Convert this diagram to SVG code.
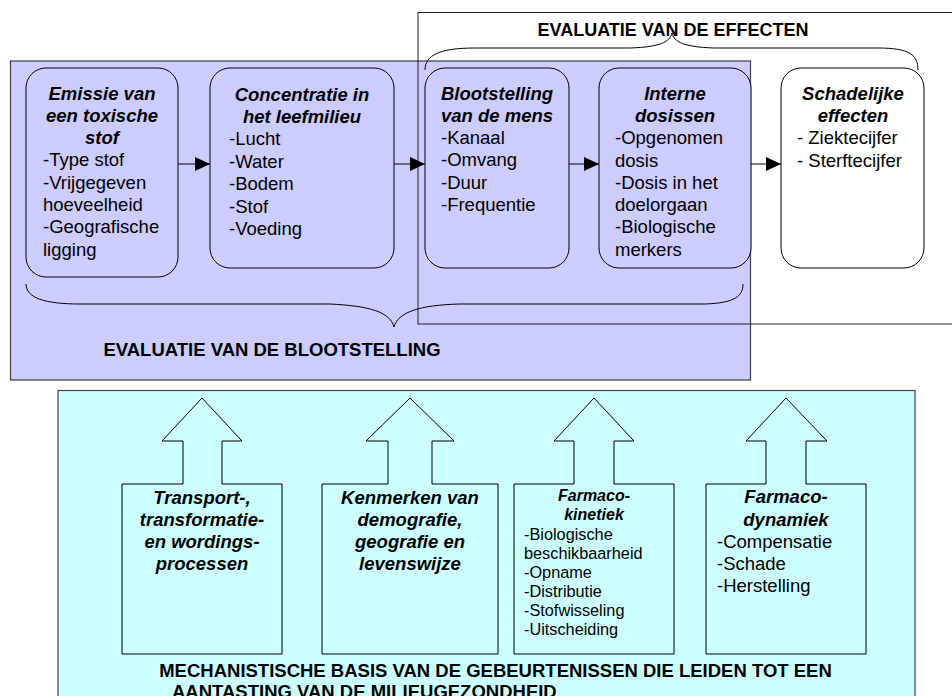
<svg xmlns="http://www.w3.org/2000/svg" width="952" height="696" viewBox="0 0 952 696">
<style>
text{font-family:"Liberation Sans",Arial,sans-serif;fill:#000}
.t{font-size:18.5px;font-weight:bold;font-style:italic;text-anchor:middle}
.b{font-size:18.5px}
.h{font-size:18.5px;font-weight:bold}
.ts{font-size:16px;font-weight:bold;font-style:italic;text-anchor:middle}
.bs{font-size:16.3px}
.rb{fill:#CCCCFF;stroke:#000;stroke-width:1}
.blk{fill:#CCFFFF;stroke:#000;stroke-width:1}
.line{stroke:#000;stroke-width:1;fill:none}
</style>
<defs>
<marker id="ah" markerUnits="userSpaceOnUse" markerWidth="15" markerHeight="14" refX="15" refY="7" orient="auto">
<path d="M0,0 L15,7 L0,14 z" fill="#000"/>
</marker>
</defs>
<g id="bg-exposure">
<rect x="10.5" y="61" width="740" height="319" fill="#CCCCFF" stroke="#404040" stroke-width="1.2"/>
<text class="h" x="272" y="356" text-anchor="middle">EVALUATIE VAN DE BLOOTSTELLING</text>
</g>
<g id="bg-effects">
<rect x="418" y="12.5" width="600" height="311.5" fill="none" stroke="#202020" stroke-width="1"/>
<text class="h" x="673" y="36" text-anchor="middle" style="font-size:18px">EVALUATIE VAN DE EFFECTEN</text>
</g>
<g id="braces" class="line">
<path d="M425,70 C425,55 440,48 475,48 L630,48 C660,47 670,42 672,33 C674,42 684,47 714,48 L878,48 C910,48 918,55 918,70"/>
<path d="M26,284 C26,298 45,304 80,304 L330,304 C370,306 390,312 394,327 C398,312 420,305 460,304 L705,304 C735,303 743,296 743,284"/>
</g>
<g id="emissie">
<rect class="rb" x="26" y="68" width="152" height="209" rx="20"/>
<text class="t" x="102" y="100">Emissie van</text>
<text class="t" x="102" y="122">een toxische</text>
<text class="t" x="102" y="144">stof</text>
<text class="b" x="43" y="166">-Type stof</text>
<text class="b" x="43" y="189">-Vrijgegeven</text>
<text class="b" x="43" y="211">hoeveelheid</text>
<text class="b" x="43" y="233">-Geografische</text>
<text class="b" x="43" y="256">ligging</text>
</g>
<g id="concentratie">
<rect class="rb" x="210" y="68" width="184" height="200" rx="20"/>
<text class="t" x="302" y="101">Concentratie in</text>
<text class="t" x="302" y="123">het leefmilieu</text>
<text class="b" x="229" y="145">-Lucht</text>
<text class="b" x="229" y="168">-Water</text>
<text class="b" x="229" y="190">-Bodem</text>
<text class="b" x="229" y="213">-Stof</text>
<text class="b" x="229" y="235">-Voeding</text>
</g>
<g id="blootstelling">
<rect class="rb" x="425" y="68" width="144" height="200" rx="20"/>
<text class="t" x="497" y="100">Blootstelling</text>
<text class="t" x="497" y="122">van de mens</text>
<text class="b" x="441" y="144">-Kanaal</text>
<text class="b" x="441" y="166">-Omvang</text>
<text class="b" x="441" y="189">-Duur</text>
<text class="b" x="441" y="211">-Frequentie</text>
</g>
<g id="interne">
<rect class="rb" x="599" y="68" width="152" height="200" rx="20"/>
<text class="t" x="675" y="100">Interne</text>
<text class="t" x="675" y="122">dosissen</text>
<text class="b" x="615" y="144">-Opgenomen</text>
<text class="b" x="615" y="167">dosis</text>
<text class="b" x="615" y="189">-Dosis in het</text>
<text class="b" x="615" y="211">doelorgaan</text>
<text class="b" x="615" y="233">-Biologische</text>
<text class="b" x="615" y="256">merkers</text>
</g>
<g id="schadelijk">
<rect x="781" y="68" width="143" height="200" rx="20" fill="#fff" stroke="#000"/>
<text class="t" x="853" y="100">Schadelijke</text>
<text class="t" x="853" y="122">effecten</text>
<text class="b" x="797" y="144">- Ziektecijfer</text>
<text class="b" x="797" y="167">- Sterftecijfer</text>
</g>
<g id="connectors" class="line">
<line x1="178" y1="164" x2="210" y2="164" marker-end="url(#ah)"/>
<line x1="394" y1="164" x2="425" y2="164" marker-end="url(#ah)"/>
<line x1="569" y1="164" x2="599" y2="164" marker-end="url(#ah)"/>
<line x1="751" y1="164" x2="781" y2="164" marker-end="url(#ah)"/>
</g>
<g id="mechanistisch">
<rect x="58" y="390.5" width="857" height="320" fill="#CCFFFF" stroke="#404040" stroke-width="1.2"/>
<text class="h" x="495.5" y="677" text-anchor="middle">MECHANISTISCHE BASIS VAN DE GEBEURTENISSEN DIE LEIDEN TOT EEN</text>
<text class="h" x="172" y="698">AANTASTING VAN DE MILIEUGEZONDHEID</text>
</g>
<g id="transport">
<polygon class="blk" points="122,484 183,484 183,441 162,441 202,398 242,441 222,441 222,484 282,484 282,654 122,654"/>
<text class="t" x="202" y="504">Transport-,</text>
<text class="t" x="202" y="526">transformatie-</text>
<text class="t" x="202" y="548">en wordings-</text>
<text class="t" x="202" y="570">processen</text>
</g>
<g id="kenmerken">
<polygon class="blk" points="322,484 388,484 388,441 366,441 410,398 454,441 432,441 432,484 498,484 498,654 322,654"/>
<text class="t" x="410" y="504">Kenmerken van</text>
<text class="t" x="410" y="526">demografie,</text>
<text class="t" x="410" y="548">geografie en</text>
<text class="t" x="410" y="570">levenswijze</text>
</g>
<g id="farmacokinetiek">
<polygon class="blk" points="514,484 574,484 574,441 554,441 594,398 634,441 614,441 614,484 674,484 674,654 514,654"/>
<text class="ts" x="594" y="501">Farmaco-</text>
<text class="ts" x="594" y="520">kinetiek</text>
<text class="bs" x="524" y="540">-Biologische</text>
<text class="bs" x="524" y="559">beschikbaarheid</text>
<text class="bs" x="524" y="578">-Opname</text>
<text class="bs" x="524" y="597">-Distributie</text>
<text class="bs" x="524" y="616">-Stofwisseling</text>
<text class="bs" x="524" y="635">-Uitscheiding</text>
</g>
<g id="farmacodynamiek">
<polygon class="blk" points="706,484 766,484 766,441 746,441 786,398 827,441 806,441 806,484 866,484 866,654 706,654"/>
<text class="t" x="786" y="503">Farmaco-</text>
<text class="t" x="786" y="526">dynamiek</text>
<text class="b" x="717" y="548">-Compensatie</text>
<text class="b" x="717" y="570">-Schade</text>
<text class="b" x="717" y="592">-Herstelling</text>
</g>
</svg>
